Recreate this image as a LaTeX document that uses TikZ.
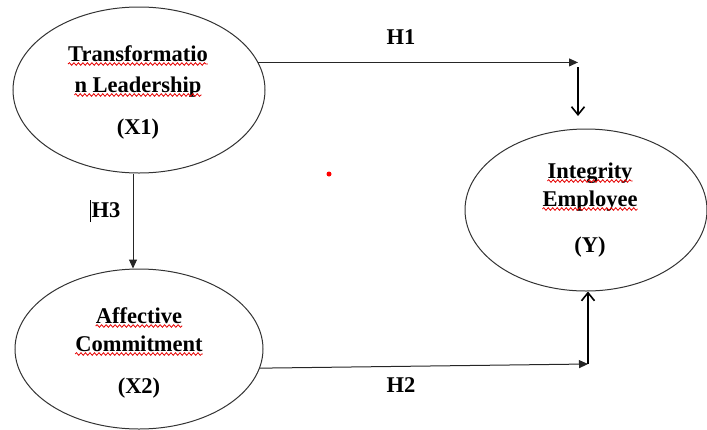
\documentclass[tikz,border=0pt]{standalone}
\usepackage{fontspec}
\setmainfont{Liberation Serif}
\usetikzlibrary{arrows.meta, shapes.geometric, decorations.pathmorphing}

\begin{document}
\begin{tikzpicture}[x=1pt, y=-1pt,
  var/.style={ellipse, draw=black!80, line width=1pt, inner sep=0pt},
  txt/.style={font=\fontsize{22.5}{27}\selectfont\bfseries, anchor=base, inner sep=0pt},
  fwd/.style={draw=black!85, line width=1pt, -{Triangle[length=9pt,width=8pt]}},
  opentip/.style={draw=black, line width=1.6pt, -{Straight Barb[length=8pt,width=13pt]}},
  squig/.style={draw=red!90!black, line width=0.8pt, decorate, decoration={snake, segment length=4.5pt, amplitude=1.3pt}}]
  \useasboundingbox (0,0) rectangle (707,429);
  % latent variables
  \node[var, minimum width=252pt, minimum height=166pt] (tl) at (139,90) {};
  \node[var, minimum width=248pt, minimum height=160pt] (al) at (139,349) {};
  \node[var, minimum width=242pt, minimum height=162pt] (iy) at (586,210) {};
  \node[txt] (tl1) at (138,61) {Transformatio};
  \node[txt] (tl2) at (138,92) {n Leadership};
  \node[txt] (tl3) at (138,134) {(X1)};
  \node[txt] (al1) at (139,323) {Affective};
  \node[txt] (al2) at (139,351) {Commitment};
  \node[txt] (al3) at (139,393) {(X2)};
  \node[txt] (iy1) at (590,178) {Integrity};
  \node[txt] (iy2) at (590,206) {Employee};
  \node[txt] (iy3) at (590,252) {(Y)};
  \foreach \w in {tl1,tl2,al1,al2,iy1,iy2}
    \draw[squig] ([yshift=-3pt]\w.base west) -- ([yshift=-3pt]\w.base east);
  % hypotheses
  \coordinate (h1end) at (578,63);
  \coordinate (h1drop) at (578,67);
  \coordinate (h1stop) at (578,116);
  \coordinate (h2turn) at (588,364);
  \draw[fwd] (tl.13) -- (tl.13 -| h1end);
  \draw[opentip] (h1drop) -- (h1stop);
  \draw[fwd] ([xshift=-6pt]tl.south) -- ([xshift=-6pt]al.north);
  \draw[fwd] (al.-9) -- (h2turn);
  \draw[opentip] (h2turn) -- (iy.south -| h2turn);
  \node[txt] (h1) at (401,44) {H1};
  \node[txt] (h2) at (401,392) {H2};
  \node[txt] (h3) at (106,217) {H3};
  \draw[line width=0.6pt] ([shift={(-1pt,-5pt)}]h3.base west) -- ([shift={(-1pt,17pt)}]h3.base west);
  \fill[red] (329,174) circle (2.5pt);
\end{tikzpicture}
\end{document}
